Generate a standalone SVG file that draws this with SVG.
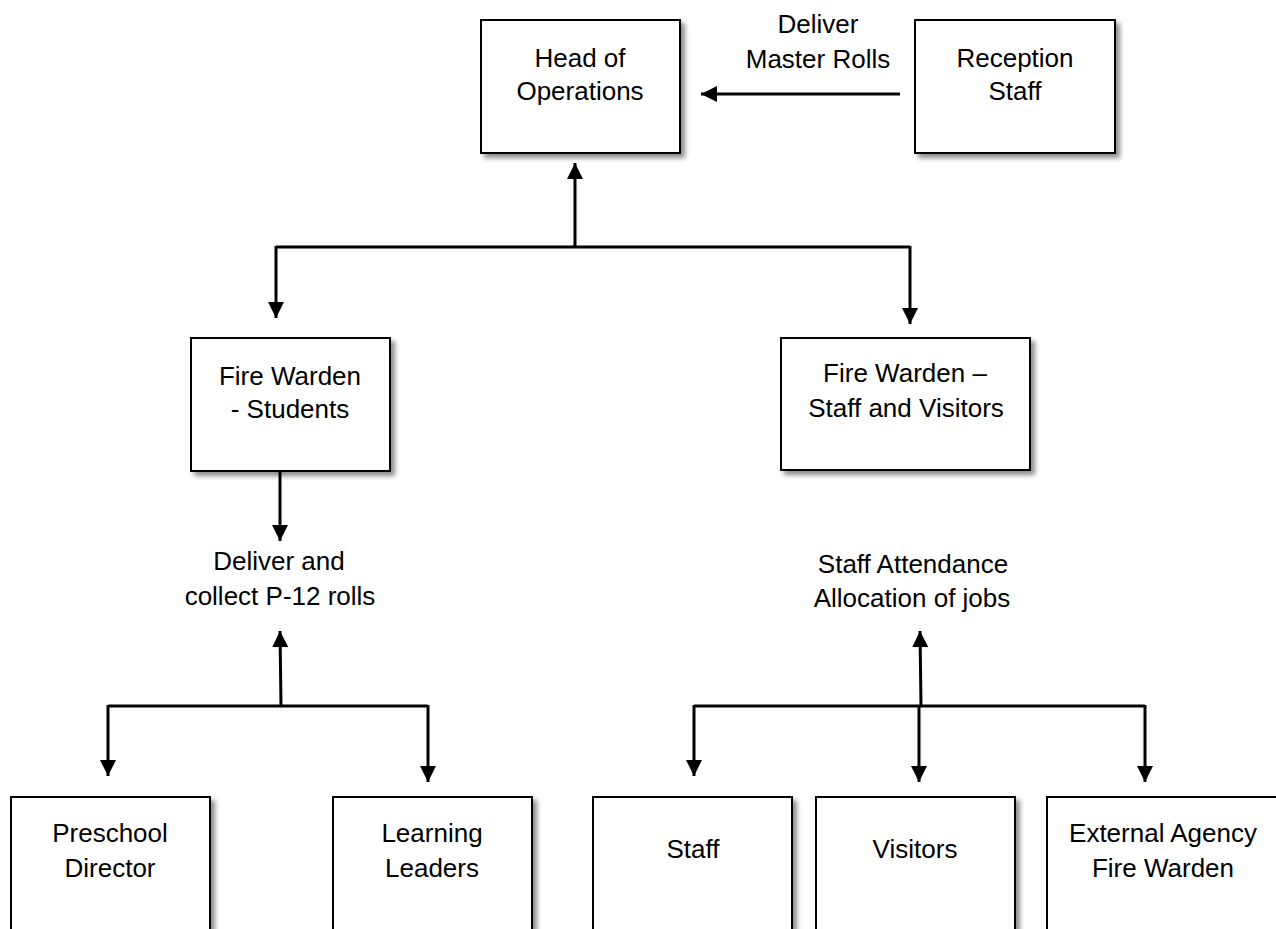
<svg xmlns="http://www.w3.org/2000/svg" width="1276" height="929" viewBox="0 0 1276 929">
<style>
.box{fill:#fff;stroke:#000;stroke-width:2;filter:url(#sh)}
.t{font-family:"Liberation Sans",Arial,sans-serif;font-size:26px;fill:#000;text-anchor:middle}
.c{fill:none;stroke:#000;stroke-width:3}
.a{marker-end:url(#ah)}
</style>
<defs>
<filter id="sh" x="-10%" y="-10%" width="130%" height="130%">
<feDropShadow dx="4" dy="4" stdDeviation="2.5" flood-color="#000" flood-opacity="0.45"/>
</filter>
<marker id="ah" markerUnits="userSpaceOnUse" markerWidth="16" markerHeight="16" refX="16" refY="8" orient="auto">
<path d="M0,0 L16,8 L0,16 Z" fill="#000"/>
</marker>
</defs>
<rect width="1276" height="929" fill="#fff"/>
<g id="connectors">
<line class="c a" x1="900" y1="94" x2="701" y2="94"/>
<line class="c a" x1="575" y1="247" x2="575" y2="163"/>
<polyline class="c" points="276,247 910,247"/>
<line class="c a" x1="276" y1="246" x2="276" y2="318"/>
<line class="c a" x1="910" y1="246" x2="910" y2="324"/>
<line class="c a" x1="280" y1="471" x2="280" y2="541"/>
<line class="c a" x1="281" y1="706" x2="280" y2="631"/>
<polyline class="c" points="108,706 428,706"/>
<line class="c a" x1="108" y1="705" x2="108" y2="776"/>
<line class="c a" x1="428" y1="705" x2="428" y2="782"/>
<line class="c a" x1="921" y1="706" x2="920" y2="631"/>
<polyline class="c" points="694,706 1145,706"/>
<line class="c a" x1="694" y1="705" x2="694" y2="776"/>
<line class="c a" x1="919" y1="705" x2="919" y2="782"/>
<line class="c a" x1="1145" y1="705" x2="1145" y2="782"/>
</g>
<g id="label-master">
<text class="t" x="818" y="33">Deliver</text>
<text class="t" x="818" y="68">Master Rolls</text>
</g>
<g id="label-p12">
<text class="t" x="279" y="570">Deliver and</text>
<text class="t" x="280" y="605">collect P-12 rolls</text>
</g>
<g id="label-staff">
<text class="t" x="913" y="573">Staff Attendance</text>
<text class="t" x="912" y="607">Allocation of jobs</text>
</g>
<g id="head">
<rect class="box" x="481" y="20" width="199" height="133"/>
<text class="t" x="580" y="67">Head of</text>
<text class="t" x="580" y="100">Operations</text>
</g>
<g id="reception">
<rect class="box" x="915" y="20" width="200" height="133"/>
<text class="t" x="1015" y="67">Reception</text>
<text class="t" x="1015" y="100">Staff</text>
</g>
<g id="fw-students">
<rect class="box" x="191" y="338" width="199" height="133"/>
<text class="t" x="290" y="385">Fire Warden</text>
<text class="t" x="290" y="418">- Students</text>
</g>
<g id="fw-staff">
<rect class="box" x="781" y="338" width="249" height="132"/>
<text class="t" x="905" y="382">Fire Warden –</text>
<text class="t" x="906" y="417">Staff and Visitors</text>
</g>
<g id="preschool">
<rect class="box" x="11" y="797" width="199" height="150"/>
<text class="t" x="110" y="842">Preschool</text>
<text class="t" x="110" y="877">Director</text>
</g>
<g id="learning">
<rect class="box" x="333" y="797" width="199" height="150"/>
<text class="t" x="432" y="842">Learning</text>
<text class="t" x="432" y="877">Leaders</text>
</g>
<g id="staff">
<rect class="box" x="593" y="797" width="199" height="150"/>
<text class="t" x="693" y="858">Staff</text>
</g>
<g id="visitors">
<rect class="box" x="816" y="797" width="199" height="150"/>
<text class="t" x="915" y="858">Visitors</text>
</g>
<g id="external">
<rect class="box" x="1047" y="797" width="233" height="150"/>
<text class="t" x="1163" y="842">External Agency</text>
<text class="t" x="1163" y="877">Fire Warden</text>
</g>
</svg>
